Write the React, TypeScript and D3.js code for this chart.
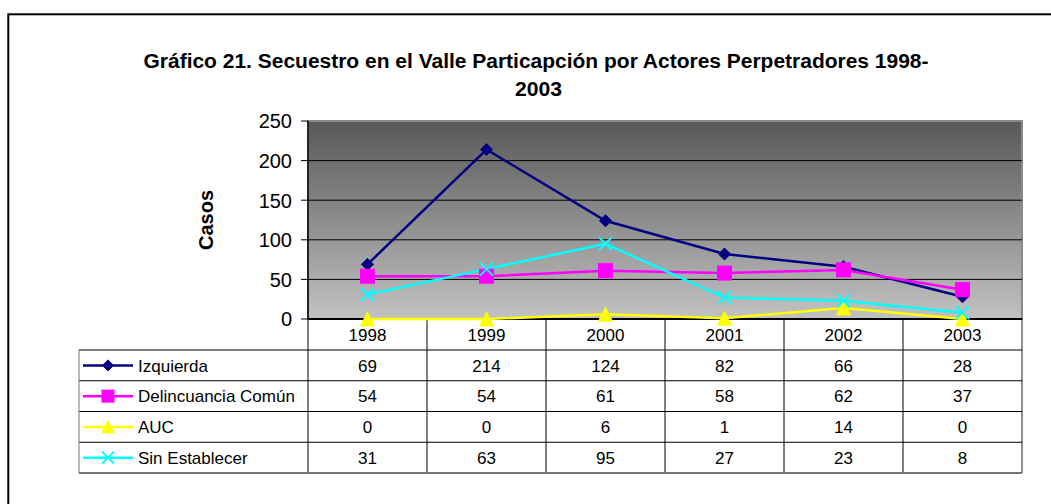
import React from "react";
import * as d3 from "d3";

const years = ["1998", "1999", "2000", "2001", "2002", "2003"];
const seriesNames = ["Izquierda", "Delincuancia Común", "AUC", "Sin Establecer"];
const izquierda = [69, 214, 124, 82, 66, 28];
const delincuencia = [54, 54, 61, 58, 62, 37];
const auc = [0, 0, 6, 1, 14, 0];
const sinEstablecer = [31, 63, 95, 27, 23, 8];
const yTicks = [0, 50, 100, 150, 200, 250];

const colors = ["#000080", "#FF00FF", "#FFFF00", "#00FFFF"];
const shapes = ["diamond", "square", "triangle", "x"];
const allValues = [izquierda, delincuencia, auc, sinEstablecer];

const W = 1051;
const H = 504;
const plot = { left: 308, right: 1022, top: 121, bottom: 319 };
const tableLeft = 79;
const headerBottom = 350;
const tableBottom = 473;
const font = "'Liberation Sans', Arial, sans-serif";

// marker drawn centred at (0,0)
const Marker = ({ shape, color, s }: { shape: string; color: string; s: number }) => {
  const h = s / 2;
  if (shape === "diamond")
    return <path d={`M0,${-h}L${h},0L0,${h}L${-h},0Z`} fill={color} stroke={color} strokeWidth={1} />;
  if (shape === "square")
    return <rect x={-h} y={-h} width={s} height={s} fill={color} stroke={color} strokeWidth={1} />;
  if (shape === "triangle")
    return <path d={`M0,${-h}L${h},${h}L${-h},${h}Z`} fill={color} stroke={color} strokeWidth={1} />;
  return (
    <path d={`M${-h},${-h}L${h},${h}M${h},${-h}L${-h},${h}`} stroke={color} strokeWidth={2} fill="none" />
  );
};

export default function App() {
  const x = d3.scaleBand().domain(years).range([plot.left, plot.right]);
  const y = d3.scaleLinear().domain([0, 250]).range([plot.bottom, plot.top]);
  const rowY = d3.scaleBand().domain(seriesNames).range([headerBottom, tableBottom]);
  const cx = (yr: string) => (x(yr) as number) + x.bandwidth() / 2;

  const lineGen = d3
    .line<number>()
    .x((_, i) => cx(years[i]))
    .y((d) => y(d));

  return (
    <svg
      width={W}
      height={H}
      style={{ position: "absolute", left: 0, top: 0, display: "block" }}
      fontFamily={font}
    >
      <defs>
        <linearGradient id="plotBg" x1="0" y1="0" x2="0" y2="1">
          <stop offset="0%" stopColor="#585858" />
          <stop offset="100%" stopColor="#c2c2c2" />
        </linearGradient>
      </defs>
      <rect x={0} y={0} width={W} height={H} fill="#fff" />
      {/* outer chart frame */}
      <rect x={8.3} y={14.3} width={W + 20} height={H + 20} fill="none" stroke="#000" strokeWidth={2} />

      {/* title */}
      <text x={536} y={67.5} textAnchor="middle" fontSize={20} fontWeight="bold" textLength={785} lengthAdjust="spacingAndGlyphs">
        Gráfico 21. Secuestro en el Valle Particapción por Actores Perpetradores 1998-
      </text>
      <text x={538.5} y={95.5} textAnchor="middle" fontSize={20} fontWeight="bold" textLength={47} lengthAdjust="spacingAndGlyphs">
        2003
      </text>

      {/* plot area */}
      <rect
        x={plot.left}
        y={plot.top}
        width={plot.right - plot.left}
        height={plot.bottom - plot.top}
        fill="url(#plotBg)"
        stroke="#8a8a8a"
        strokeWidth={2}
      />
      {yTicks.slice(1, -1).map((t) => (
        <line key={t} x1={plot.left} x2={plot.right} y1={y(t)} y2={y(t)} stroke="#000" strokeWidth={1} />
      ))}

      {/* y axis */}
      <line x1={plot.left} x2={plot.left} y1={plot.top} y2={plot.bottom} stroke="#000" strokeWidth={1.5} />
      {yTicks.map((t) => (
        <g key={t}>
          <line x1={plot.left - 7} x2={plot.left} y1={y(t)} y2={y(t)} stroke="#000" strokeWidth={1} />
          <text x={292} y={y(t)} dy="0.37em" textAnchor="end" fontSize={20}>
            {t}
          </text>
        </g>
      ))}
      <text
        transform={`translate(213,${(plot.top + plot.bottom) / 2}) rotate(-90)`}
        textAnchor="middle"
        fontSize={20}
        fontWeight="bold"
      >
        Casos
      </text>

      {/* data table */}
      <g stroke="#000" strokeWidth={1}>
        {years.map((yr) => (
          <line key={yr} x1={x(yr) as number} x2={x(yr) as number} y1={plot.bottom} y2={tableBottom} />
        ))}
        <line x1={plot.right} x2={plot.right} y1={plot.bottom} y2={tableBottom} stroke="#222" />
        {seriesNames.map((s) => (
          <line key={s} x1={tableLeft} x2={plot.right} y1={rowY(s) as number} y2={rowY(s) as number} />
        ))}
        <line x1={tableLeft} x2={tableLeft} y1={headerBottom} y2={tableBottom} stroke="#777" />
        <line x1={tableLeft} x2={plot.right} y1={tableBottom} y2={tableBottom} stroke="#777" strokeWidth={2} />
      </g>
      {years.map((yr) => (
        <text key={yr} x={cx(yr)} y={(plot.bottom + headerBottom) / 2} dy="0.37em" textAnchor="middle" fontSize={17}>
          {yr}
        </text>
      ))}
      {seriesNames.map((s, si) => {
        const ry = (rowY(s) as number) + rowY.bandwidth() / 2;
        return (
          <g key={s}>
            <line x1={83} x2={133} y1={ry} y2={ry} stroke={colors[si]} strokeWidth={2.5} />
            <g transform={`translate(108,${ry})`}>
              <Marker shape={shapes[si]} color={colors[si]} s={si === 0 ? 11 : 12} />
            </g>
            <text x={138} y={ry} dy="0.37em" fontSize={17}>
              {s}
            </text>
            {allValues[si].map((v, i) => (
              <text key={i} x={cx(years[i])} y={ry} dy="0.37em" textAnchor="middle" fontSize={17}>
                {v}
              </text>
            ))}
          </g>
        );
      })}

      {/* x axis line */}
      <line x1={plot.left} x2={plot.right} y1={plot.bottom} y2={plot.bottom} stroke="#000" strokeWidth={2} />

      {/* series lines and markers */}
      {allValues.map((vals, si) => (
        <path key={si} d={lineGen(vals) as string} fill="none" stroke={colors[si]} strokeWidth={2.5} />
      ))}
      {allValues.map((vals, si) =>
        vals.map((v, i) => (
          <g key={`${si}-${i}`} transform={`translate(${cx(years[i])},${y(v)})`}>
            <Marker shape={shapes[si]} color={colors[si]} s={si === 0 ? 12 : si === 3 ? 13 : 14} />
          </g>
        ))
      )}
    </svg>
  );
}
